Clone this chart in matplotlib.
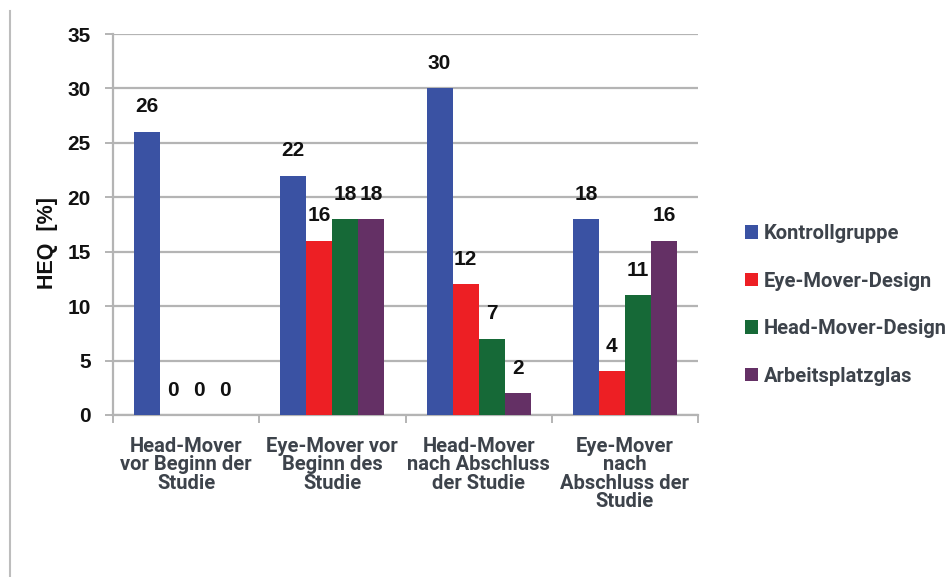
import matplotlib
matplotlib.use('Agg')
import matplotlib.pyplot as plt
import numpy as np
from matplotlib.lines import Line2D

categories = ["Head-Mover\nvor Beginn der\nStudie",
              "Eye-Mover vor\nBeginn des\nStudie",
              "Head-Mover\nnach Abschluss\nder Studie",
              "Eye-Mover\nnach\nAbschluss der\nStudie"]
series = ["Kontrollgruppe", "Eye-Mover-Design", "Head-Mover-Design", "Arbeitsplatzglas"]
kontrollgruppe = [26, 22, 30, 18]
eye_mover_design = [0, 16, 12, 4]
head_mover_design = [0, 18, 7, 11]
arbeitsplatzglas = [0, 18, 2, 16]
yticks = [0, 5, 10, 15, 20, 25, 30, 35]
ylabel = "HEQ  [%]"

values = [kontrollgruppe, eye_mover_design, head_mover_design, arbeitsplatzglas]
colors = ['#3a52a3', '#ed1f24', '#166937', '#643065']

W, H = 949, 577
fig = plt.figure(figsize=(W / 100, H / 100), dpi=100)
ax = fig.add_axes([113 / W, 1 - 415 / H, 585 / W, 381 / H])

num_font = ['Liberation Sans', 'DejaVu Sans']
txt_font = ['Roboto', 'Lato', 'DejaVu Sans']
txt_color = '#3d434b'
grid_color = '#b4b4b4'

x = np.arange(len(categories))
bw = 0.178
offsets = (np.arange(4) - 1.5) * bw
containers = []
for k, (vals, col) in enumerate(zip(values, colors)):
    bc = ax.bar(x + offsets[k], vals, width=bw, color=col, zorder=3, label=series[k])
    containers.append(bc)
    for xi, v in zip(x + offsets[k], vals):
        ax.annotate(str(v), (xi, v), xytext=(0, 18), textcoords='offset points',
                    ha='center', va='center', fontsize=15, fontweight='bold',
                    family=num_font, color='#111111')

ax.set_xlim(-0.5, len(categories) - 0.5)
ax.set_ylim(0, 35)
ax.set_yticks(yticks)
ax.set_yticklabels([str(t) for t in yticks], fontsize=15, fontweight='bold',
                   family=num_font, color='#111111')
ax.yaxis.grid(True, color=grid_color, lw=1.6, zorder=0)
ax.set_axisbelow(True)
ax.tick_params(axis='y', length=6, width=1.4, color=grid_color, pad=10)

ax.set_xticks(np.arange(len(categories) + 1) - 0.5)
ax.set_xticklabels([])
ax.tick_params(axis='x', which='major', length=6, width=1.4, color=grid_color, direction='out')
ax.set_xticks(x, minor=True)
ax.set_xticklabels(categories, minor=True, fontsize=14.5, fontweight='bold',
                   family=txt_font, color=txt_color, linespacing=0.95)
ax.tick_params(axis='x', which='minor', length=0, pad=16)

for s in ['top', 'right']:
    ax.spines[s].set_visible(False)
for s in ['left', 'bottom']:
    ax.spines[s].set_color(grid_color)
    ax.spines[s].set_linewidth(1.6)

fig.text(47 / W, 1 - 243 / H, ylabel, rotation=90, ha='center', va='center',
         fontsize=15.5, fontweight='bold', family=num_font, color='#111111')

leg = ax.legend(handles=containers, labels=series, loc='upper left',
                bbox_to_anchor=(745 / W, 1 - 224 / H), bbox_transform=fig.transFigure,
                frameon=False, handlelength=0.65, handleheight=0.65, handletextpad=0.3,
                labelspacing=1.42, borderpad=0, borderaxespad=0,
                prop={'family': txt_font, 'weight': 'bold', 'size': 14.5})
for t in leg.get_texts():
    t.set_color(txt_color)

fig.add_artist(Line2D([9.5 / W, 9.5 / W], [1 - 11 / H, 0], color='#bdbdbd', lw=1.5))

fig.savefig('out.png', dpi=100)
